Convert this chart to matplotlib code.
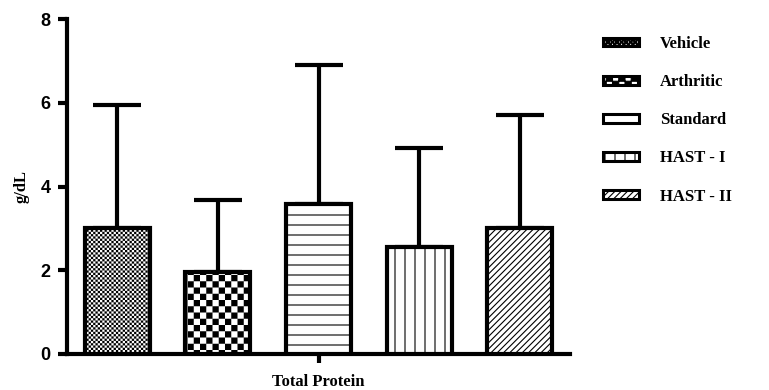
import numpy as np
import matplotlib
matplotlib.use("Agg")
import matplotlib.pyplot as plt
import matplotlib.hatch as mhatch
from matplotlib.path import Path
from matplotlib.patches import Patch

# ---- data -------------------------------------------------------------
groups = ["Vehicle", "Arthritic", "Standard", "HAST - I", "HAST - II"]
means = [3.00, 1.95, 3.58, 2.56, 3.00]          # g/dL
sem = [2.95, 1.73, 3.33, 2.36, 2.70]            # upper error
category = "Total Protein"
y_ticks = [0, 2, 4, 6, 8]
hatches = ["*" * 11, "****", "--", "||", "//"]  # '*' = checkerboard fill


# ---- custom hatch handling ------------------------------------------------
class CheckerHatch(mhatch.HatchPatternBase):
    """Filled checkerboard; two periods per '*' across one hatch tile."""

    def __init__(self, hatch, density):
        self.periods = 2 * hatch.count("*")
        self.num_vertices = 2 * self.periods ** 2 * 5

    def set_vertices_and_codes(self, vertices, codes):
        n = self.periods
        s = 0.5 / n
        square = np.array([[0, 0], [s, 0], [s, s], [0, s], [0, 0]], float)
        idx = np.arange(n) / n
        gx, gy = np.meshgrid(idx, idx)
        origins = np.column_stack([gx.ravel(), gy.ravel()])
        origins = np.concatenate([origins, origins + s])
        vertices[:] = (origins[:, None, :] + square[None, :, :]).reshape(-1, 2)
        one = [Path.MOVETO, Path.LINETO, Path.LINETO, Path.LINETO, Path.CLOSEPOLY]
        codes[:] = np.tile(one, len(origins))


def with_density(cls, factor):
    def __init__(self, hatch, density):
        cls.__init__(self, hatch, density * factor)
    return type(cls.__name__ + "Scaled", (cls,), {"__init__": __init__})


mhatch._hatch_types = [
    with_density(mhatch.HorizontalHatch, 5 / 6),
    with_density(mhatch.VerticalHatch, 5 / 6),
    with_density(mhatch.NorthEastHatch, 16 / 6),
    mhatch.SouthEastHatch,
    mhatch.SmallCircles,
    mhatch.LargeCircles,
    mhatch.SmallFilledCircles,
    CheckerHatch,
]

plt.rcParams["hatch.color"] = "black"
plt.rcParams["hatch.linewidth"] = 0.8


def set_hatch_lw(artist, lw):
    if hasattr(artist, "set_hatch_linewidth"):
        artist.set_hatch_linewidth(lw)


serif = dict(family="Liberation Serif", weight="bold", size=12)

# ---- figure -----------------------------------------------------------
W, H = 769, 390
fig = plt.figure(figsize=(W / 100, H / 100), dpi=100)
ax = fig.add_axes([67 / W, 36 / H, 503 / W, 335 / H])

x = np.arange(len(groups))
ax.errorbar(x, means, yerr=[np.zeros(len(x)), sem], fmt="none",
            ecolor="black", elinewidth=3, capsize=17, capthick=3, zorder=2)
bars = ax.bar(x, means, width=0.645, color="white", edgecolor="black",
              linewidth=3, zorder=3)
for b, h in zip(bars, hatches):
    b.set_hatch(h)
    if "*" in h:
        set_hatch_lw(b, 0.01)

ax.set_xlim(-0.5, len(groups) - 0.5)
ax.set_ylim(y_ticks[0], y_ticks[-1])
ax.set_yticks(y_ticks)
ax.set_yticklabels([str(t) for t in y_ticks], family="Liberation Sans",
                   weight="bold", size=13)
ax.set_xticks([(len(groups) - 1) / 2])
ax.set_xticklabels([category], fontdict=serif)
ax.tick_params(axis="both", direction="out", length=6.5, width=3, color="black")
ax.tick_params(axis="y", pad=5.5)
ax.tick_params(axis="x", pad=8)

for side in ("top", "right"):
    ax.spines[side].set_visible(False)
for side in ("left", "bottom"):
    ax.spines[side].set_linewidth(3)

ax.set_ylabel("g/dL", fontdict=serif)
ax.yaxis.set_label_coords((30 - 67) / 503, 0.5)

# ---- legend -----------------------------------------------------------
handles = []
for h in hatches:
    p = Patch(facecolor="white", edgecolor="black", hatch=h, linewidth=2.2)
    if "*" in h:
        set_hatch_lw(p, 0.01)
    handles.append(p)

ax.legend(handles, groups, loc="upper left",
          bbox_to_anchor=(603 / W, 1 - 36 / H), bbox_transform=fig.transFigure,
          frameon=False, borderpad=0, borderaxespad=0,
          handlelength=2.16, handleheight=0.42, handletextpad=1.26,
          labelspacing=1.33, prop=serif)

fig.savefig("out.png", dpi=100)
